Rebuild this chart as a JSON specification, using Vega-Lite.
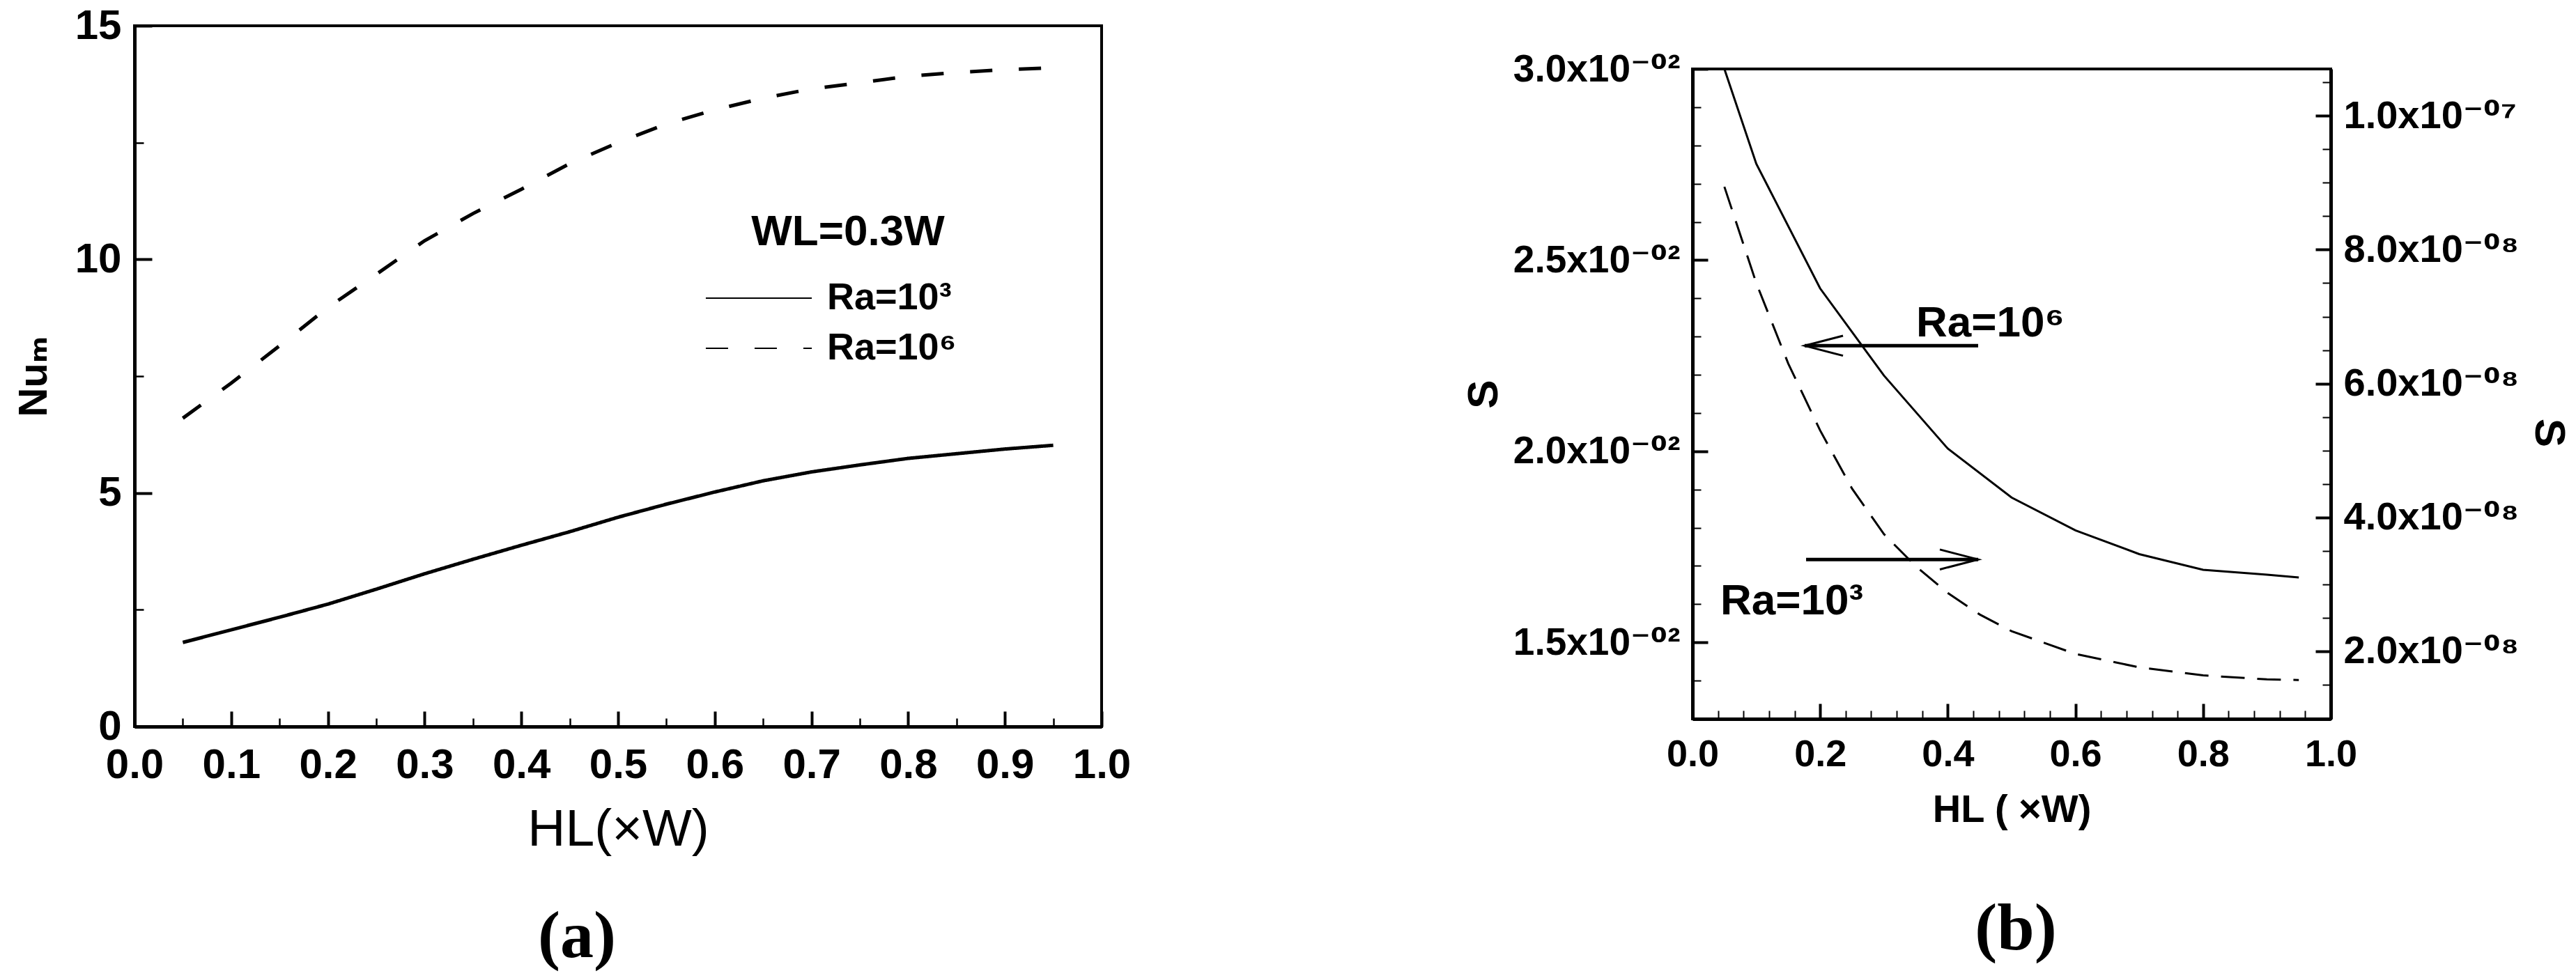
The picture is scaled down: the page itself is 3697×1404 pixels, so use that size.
{
  "$schema": "https://vega.github.io/schema/vega-lite/v6.json",
  "background": "white",
  "padding": {"left": 18, "top": 5, "right": 5, "bottom": 5},
  "config": {
    "font": "Liberation Sans, DejaVu Sans",
    "view": {"stroke": "black", "strokeWidth": 4},
    "axis": {
      "grid": false,
      "domainColor": "black",
      "domainWidth": 5,
      "tickColor": "black",
      "labelColor": "black",
      "titleColor": "black",
      "labelFont": "Liberation Sans, DejaVu Sans",
      "titleFont": "Liberation Sans, DejaVu Sans",
      "labelFontWeight": "bold",
      "labelFlush": false,
      "labelOverlap": false,
      "labelBound": false,
      "labelLimit": 0,
      "titleLimit": 0
    },
    "title": {"color": "black"}
  },
  "datasets": {
    "nu": [
      {"h": 0.05, "Nu": 1.80, "Ra": "Ra=10³"},
      {"h": 0.10, "Nu": 2.07, "Ra": "Ra=10³"},
      {"h": 0.15, "Nu": 2.34, "Ra": "Ra=10³"},
      {"h": 0.20, "Nu": 2.62, "Ra": "Ra=10³"},
      {"h": 0.25, "Nu": 2.94, "Ra": "Ra=10³"},
      {"h": 0.30, "Nu": 3.27, "Ra": "Ra=10³"},
      {"h": 0.35, "Nu": 3.58, "Ra": "Ra=10³"},
      {"h": 0.40, "Nu": 3.88, "Ra": "Ra=10³"},
      {"h": 0.45, "Nu": 4.17, "Ra": "Ra=10³"},
      {"h": 0.50, "Nu": 4.48, "Ra": "Ra=10³"},
      {"h": 0.55, "Nu": 4.76, "Ra": "Ra=10³"},
      {"h": 0.60, "Nu": 5.02, "Ra": "Ra=10³"},
      {"h": 0.65, "Nu": 5.26, "Ra": "Ra=10³"},
      {"h": 0.70, "Nu": 5.45, "Ra": "Ra=10³"},
      {"h": 0.75, "Nu": 5.60, "Ra": "Ra=10³"},
      {"h": 0.80, "Nu": 5.74, "Ra": "Ra=10³"},
      {"h": 0.85, "Nu": 5.84, "Ra": "Ra=10³"},
      {"h": 0.90, "Nu": 5.94, "Ra": "Ra=10³"},
      {"h": 0.95, "Nu": 6.02, "Ra": "Ra=10³"},
      {"h": 0.05, "Nu": 6.60, "Ra": "Ra=10⁶"},
      {"h": 0.10, "Nu": 7.35, "Ra": "Ra=10⁶"},
      {"h": 0.15, "Nu": 8.15, "Ra": "Ra=10⁶"},
      {"h": 0.20, "Nu": 8.97, "Ra": "Ra=10⁶"},
      {"h": 0.25, "Nu": 9.68, "Ra": "Ra=10⁶"},
      {"h": 0.30, "Nu": 10.40, "Ra": "Ra=10⁶"},
      {"h": 0.35, "Nu": 10.98, "Ra": "Ra=10⁶"},
      {"h": 0.40, "Nu": 11.50, "Ra": "Ra=10⁶"},
      {"h": 0.45, "Nu": 12.05, "Ra": "Ra=10⁶"},
      {"h": 0.50, "Nu": 12.50, "Ra": "Ra=10⁶"},
      {"h": 0.55, "Nu": 12.90, "Ra": "Ra=10⁶"},
      {"h": 0.60, "Nu": 13.20, "Ra": "Ra=10⁶"},
      {"h": 0.65, "Nu": 13.45, "Ra": "Ra=10⁶"},
      {"h": 0.70, "Nu": 13.65, "Ra": "Ra=10⁶"},
      {"h": 0.75, "Nu": 13.78, "Ra": "Ra=10⁶"},
      {"h": 0.80, "Nu": 13.92, "Ra": "Ra=10⁶"},
      {"h": 0.85, "Nu": 14.00, "Ra": "Ra=10⁶"},
      {"h": 0.90, "Nu": 14.06, "Ra": "Ra=10⁶"},
      {"h": 0.95, "Nu": 14.10, "Ra": "Ra=10⁶"}
    ],
    "s6": [
      {"h": 0.05, "S": 0.03000},
      {"h": 0.10, "S": 0.02752},
      {"h": 0.20, "S": 0.02426},
      {"h": 0.30, "S": 0.02198},
      {"h": 0.40, "S": 0.02007},
      {"h": 0.50, "S": 0.01879},
      {"h": 0.60, "S": 0.01793},
      {"h": 0.70, "S": 0.01731},
      {"h": 0.80, "S": 0.01690},
      {"h": 0.90, "S": 0.01677},
      {"h": 0.95, "S": 0.01670}
    ],
    "s3": [
      {"h": 0.05, "S": 8.94e-8},
      {"h": 0.10, "S": 7.50e-8},
      {"h": 0.15, "S": 6.30e-8},
      {"h": 0.20, "S": 5.30e-8},
      {"h": 0.25, "S": 4.43e-8},
      {"h": 0.30, "S": 3.75e-8},
      {"h": 0.35, "S": 3.27e-8},
      {"h": 0.40, "S": 2.87e-8},
      {"h": 0.45, "S": 2.55e-8},
      {"h": 0.50, "S": 2.30e-8},
      {"h": 0.60, "S": 1.96e-8},
      {"h": 0.70, "S": 1.76e-8},
      {"h": 0.80, "S": 1.64e-8},
      {"h": 0.90, "S": 1.58e-8},
      {"h": 0.95, "S": 1.57e-8}
    ],
    "notes": [
      {"label": "Ra=10⁶", "x": 0.3504, "y": 0.0230},
      {"label": "Ra=10³", "x": 0.0437, "y": 0.01573}
    ],
    "arrows": [
      {"from": 0.4476, "to": 0.1758, "y": 0.02276, "dir": "left"},
      {"from": 0.1780, "to": 0.4476, "y": 0.01717, "dir": "right"}
    ]
  },
  "spacing": 471,
  "hconcat": [
    {
      "width": 1388,
      "height": 1006,
      "title": {"text": "(a)", "orient": "bottom", "font": "Liberation Serif", "fontWeight": "bold", "fontSize": 96, "frame": "group", "anchor": "middle", "dx": -59, "offset": 70},
      "data": {"name": "nu"},
      "mark": {"type": "line", "strokeWidth": 5, "color": "black"},
      "encoding": {
        "x": {
          "field": "h", "type": "quantitative",
          "scale": {"domain": [0, 1], "nice": false, "zero": false},
          "axis": {
            "values": [0, 0.05, 0.1, 0.15, 0.2, 0.25, 0.3, 0.35, 0.4, 0.45, 0.5, 0.55, 0.6, 0.65, 0.7, 0.75, 0.8, 0.85, 0.9, 0.95, 1],
            "labelExpr": "abs(datum.value*10 - round(datum.value*10)) < 0.001 ? format(datum.value, '.1f') : ''",
            "labelOverlap": false,
            "tickSize": {"condition": {"test": "abs(datum.value*10 - round(datum.value*10)) < 0.001", "value": -22}, "value": -12},
            "tickWidth": {"condition": {"test": "abs(datum.value*10 - round(datum.value*10)) < 0.001", "value": 4}, "value": 2.5},
            "labelFontSize": 60,
            "labelPadding": 48,
            "title": "HL(×W)",
            "titleFontSize": 75,
            "titleFontWeight": "normal",
            "titlePadding": 16
          }
        },
        "y": {
          "field": "Nu", "type": "quantitative",
          "scale": {"domain": [0, 15], "nice": false, "zero": false},
          "axis": {
            "values": [0, 2.5, 5, 7.5, 10, 12.5, 15],
            "labelExpr": "datum.value % 5 === 0 ? format(datum.value, 'd') : ''",
            "labelOverlap": false,
            "tickSize": {"condition": {"test": "datum.value % 5 === 0", "value": -25}, "value": -13},
            "tickWidth": {"condition": {"test": "datum.value % 5 === 0", "value": 4}, "value": 2.5},
            "labelFontSize": 60,
            "labelPadding": 44,
            "title": "Nuₘ",
            "titleFontSize": 58,
            "titleFontWeight": "bold",
            "titlePadding": 29
          }
        },
        "strokeDash": {
          "field": "Ra", "type": "nominal",
          "scale": {"domain": ["Ra=10³", "Ra=10⁶"], "range": [[1, 0], [32, 38]]},
          "legend": {
            "orient": "none",
            "legendX": 869,
            "legendY": 266,
            "padding": 0,
            "title": "WL=0.3W",
            "titleFont": "Liberation Sans, DejaVu Sans",
            "titleFontSize": 62,
            "titleFontWeight": "bold",
            "titleColor": "black",
            "titleAnchor": "middle",
            "titlePadding": 36,
            "titleLimit": 0,
            "labelLimit": 0,
            "labelFont": "Liberation Sans, DejaVu Sans",
            "labelFontSize": 54,
            "labelFontWeight": "bold",
            "labelColor": "black",
            "labelOffset": 71,
            "symbolType": "M -3 0 L 3 0",
            "symbolSize": 2570,
            "symbolStrokeWidth": 2,
            "symbolStrokeColor": "black",
            "symbolFillColor": "transparent",
            "rowPadding": 18,
            "encode": {
              "symbols": {"update": {"strokeDash": {"signal": "datum.value === 'Ra=10⁶' ? [13, 20] : [1, 0]"}, "strokeWidth": {"value": 2}, "fill": {"value": "transparent"}}}
            }
          }
        }
      }
    },
    {
      "spacing": 32,
      "vconcat": [
        {
          "width": 916,
          "height": 1,
          "view": {"stroke": null},
          "data": {"values": []},
          "mark": "point"
        },
        {
          "width": 916,
          "height": 933,
          "title": {"text": "(b)", "orient": "bottom", "font": "Liberation Serif", "fontWeight": "bold", "fontSize": 96, "frame": "group", "anchor": "middle", "dx": 6, "offset": 97},
          "layer": [
            {
              "layer": [
                {
                  "data": {"name": "s6"},
                  "mark": {"type": "line", "color": "black", "strokeWidth": 3},
                  "encoding": {
                    "x": {
                      "field": "h", "type": "quantitative",
                      "scale": {"domain": [0, 1], "nice": false, "zero": false},
                      "axis": {
                        "orient": "bottom",
                        "values": [0, 0.2, 0.4, 0.6, 0.8, 1],
                        "format": ".1f",
                        "labelOverlap": false,
                        "tickSize": -22,
                        "tickWidth": 4,
                        "labelFontSize": 54,
                        "labelPadding": 46,
                        "title": "HL ( ×W)",
                        "titleFontSize": 56,
                        "titleFontWeight": "bold",
                        "titlePadding": 25
                      }
                    },
                    "y": {
                      "field": "S", "type": "quantitative",
                      "scale": {"domain": [0.013, 0.030], "nice": false, "zero": false},
                      "axis": {
                        "orient": "left",
                        "values": [0.014, 0.015, 0.016, 0.017, 0.018, 0.019, 0.020, 0.021, 0.022, 0.023, 0.024, 0.025, 0.026, 0.027, 0.028, 0.029, 0.030],
                        "labelExpr": "round(datum.value*1000) % 5 === 0 ? format(datum.value*100, '.1f') + 'x10⁻⁰²' : ''",
                        "labelOverlap": false,
                        "tickSize": {"condition": {"test": "round(datum.value*1000) % 5 === 0", "value": -22}, "value": -12},
                        "tickWidth": {"condition": {"test": "round(datum.value*1000) % 5 === 0", "value": 4}, "value": 2},
                        "labelFontSize": 55,
                        "labelPadding": 40,
                        "title": "S",
                        "titleFontSize": 62,
                        "titleFontWeight": "bold",
                        "titlePadding": 68
                      }
                    }
                  }
                },
                {
                  "data": {"name": "notes"},
                  "mark": {"type": "text", "align": "left", "baseline": "alphabetic", "font": "Liberation Sans, DejaVu Sans", "fontSize": 62, "fontWeight": "bold", "color": "black"},
                  "encoding": {
                    "x": {"field": "x", "type": "quantitative"},
                    "y": {"field": "y", "type": "quantitative"},
                    "text": {"field": "label"}
                  }
                },
                {
                  "data": {"name": "arrows"},
                  "mark": {"type": "rule", "strokeWidth": 5, "color": "black"},
                  "encoding": {
                    "x": {"field": "from", "type": "quantitative"},
                    "x2": {"field": "to"},
                    "y": {"field": "y", "type": "quantitative"}
                  }
                },
                {
                  "data": {"name": "arrows"},
                  "mark": {"type": "point", "filled": false, "strokeWidth": 3, "color": "black", "opacity": 1, "size": 12100},
                  "encoding": {
                    "x": {"field": "to", "type": "quantitative"},
                    "y": {"field": "y", "type": "quantitative"},
                    "shape": {
                      "field": "dir", "type": "nominal",
                      "scale": {"domain": ["left", "right"], "range": ["M 1 -0.26 L 0 0 L 1 0.26", "M -1 -0.26 L 0 0 L -1 0.26"]},
                      "legend": null
                    }
                  }
                }
              ]
            },
            {
              "data": {"name": "s3"},
              "mark": {"type": "line", "color": "black", "strokeWidth": 3, "strokeDash": [34, 18]},
              "encoding": {
                "x": {
                  "field": "h", "type": "quantitative",
                  "axis": {
                    "orient": "bottom",
                    "values": [0.04, 0.08, 0.12, 0.16, 0.24, 0.28, 0.32, 0.36, 0.44, 0.48, 0.52, 0.56, 0.64, 0.68, 0.72, 0.76, 0.84, 0.88, 0.92, 0.96],
                    "labels": false,
                    "domain": false,
                    "tickSize": -12,
                    "tickWidth": 2,
                    "title": null
                  }
                },
                "y": {
                  "field": "S", "type": "quantitative",
                  "scale": {"domain": [0.99e-8, 1.07e-7], "nice": false, "zero": false},
                  "axis": {
                    "orient": "right",
                    "values": [1.5e-8, 2e-8, 2.5e-8, 3e-8, 3.5e-8, 4e-8, 4.5e-8, 5e-8, 5.5e-8, 6e-8, 6.5e-8, 7e-8, 7.5e-8, 8e-8, 8.5e-8, 9e-8, 9.5e-8, 1e-7, 1.05e-7],
                    "labelExpr": "round(datum.value*1e9) % 20 !== 0 ? '' : (datum.value > 9.9e-8 ? '1.0x10⁻⁰⁷' : format(datum.value*1e8, '.1f') + 'x10⁻⁰⁸')",
                    "labelOverlap": false,
                    "tickSize": {"condition": {"test": "round(datum.value*1e9) % 20 === 0", "value": -22}, "value": -12},
                    "tickWidth": {"condition": {"test": "round(datum.value*1e9) % 20 === 0", "value": 4}, "value": 2},
                    "labelFontSize": 56,
                    "labelPadding": 40,
                    "title": "S",
                    "titleFontSize": 62,
                    "titleFontWeight": "bold",
                    "titlePadding": 80,
                    "titleY": 522
                  }
                }
              }
            }
          ],
          "resolve": {"scale": {"y": "independent"}, "axis": {"x": "independent"}}
        }
      ]
    }
  ]
}
